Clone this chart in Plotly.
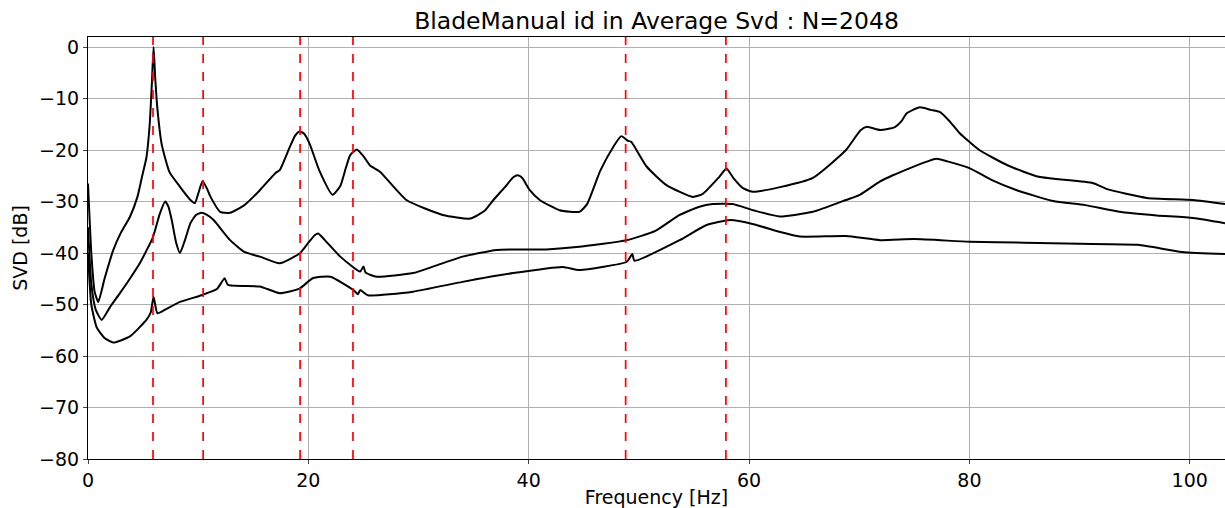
import plotly.graph_objects as go

# Top singular value curve
f1 = [0, 0.3, 0.6, 0.93, 1.5, 2.3, 3.0, 3.8, 4.5, 4.9, 5.3, 5.6, 5.8, 5.95, 6.1, 6.3, 6.7, 7.4, 8.3, 9.3,
      9.7, 10.0, 10.4, 10.8, 11.1, 12.0, 12.9, 14.2, 15.6, 17.0, 17.4, 18.3, 18.8, 19.2, 19.6, 20.1, 21.0, 22.2, 22.9,
      23.4, 23.8, 24.4, 25.0, 25.6, 26.5, 28.9, 32.2, 34.7, 36.0, 36.8, 37.8, 38.6, 39.0, 39.4, 40.1, 41.0, 42.8, 44.6, 45.3, 46.5,
      47.7, 48.4, 49.0, 49.3, 50.7, 52.5, 54.9, 55.8, 57.3, 57.95, 58.6, 59.45, 60.3, 62.8, 65.8, 68.8, 70.1, 70.7,
      71.9, 73.2, 73.8, 74.3, 75.5, 76.5, 77.3, 78.2, 79.1, 80.9, 83.5, 86.3, 91.2, 92.5, 96.1, 100.3, 103.2]
svd1 = [-26.5, -40, -47.5, -49.5, -45, -39.4, -36, -33, -29, -25.2, -21.5, -15, -7, 0, -6, -12, -19, -24.3, -27, -29.7,
        -30.3, -28.5, -26, -27.5, -29, -32, -32.2, -30.7, -27.8, -24.5, -23.9, -19.5, -17.2, -16.4, -16.8, -18.7, -24, -28.7, -27,
        -23.5, -21, -19.9, -21.2, -23, -24.2, -29.7, -32.6, -33.3, -31.8, -29.7, -27.3, -25.3, -24.9, -25.4, -27.8, -29.7, -31.7, -32, -30.5, -24,
        -19.3, -17.3, -18.2, -18.4, -23.2, -26.8, -29.1, -28.5, -25.2, -23.6, -25.5, -27.4, -28.1, -27.2, -25.4, -20, -16.2, -15.5,
        -16.1, -15.6, -14.5, -12.9, -11.7, -12.2, -12.6, -14.4, -16.7, -20, -23, -25.2, -26.4, -27.6, -29.3, -29.7, -30.5]

# Second singular value curve
f2 = [0, 0.3, 0.7, 1.24, 2.0, 2.9, 3.8, 4.7, 5.9, 6.5, 7.0, 7.3, 7.6, 8.0, 8.35, 8.8, 9.3, 9.8, 10.3, 10.8, 11.4, 12.9,
      14.2, 15.6, 17.4, 19.2, 20.0, 20.6, 20.9, 21.5, 22.9, 24.7, 25.0, 25.2, 26.2, 29.5, 31.5, 34.0, 37.1, 41.6, 44.6,
      48.9, 51.5, 53.7, 55.5, 56.7, 58.5, 60.4, 62.8, 65.8, 68.8, 70.05, 71.9, 73.05, 74.5, 76.2, 77.0, 78.0, 80.0, 82.0, 84.3,
      87.6, 90.5, 93.6, 97.0, 100.3, 103.2]
svd2 = [-35, -46, -51, -53, -50.5, -47.8, -45, -42, -36.9, -32.5, -30, -31, -33.6, -38, -40, -37.5, -34.2, -32.6, -32.2, -32.6, -33.6, -37.5,
        -39.8, -40.7, -42, -40.1, -38, -36.5, -36.2, -37.5, -40.7, -43.6, -42.6, -43.8, -44.6, -43.9, -42.5, -40.7, -39.4, -39.3, -38.8,
        -37.5, -35.7, -32.6, -31.0, -30.5, -30.5, -31.7, -32.9, -32, -29.7, -28.7, -26.1, -24.9, -23.6, -22.2, -21.7, -22.2, -23.5, -25.8, -27.8,
        -29.9, -30.7, -32, -32.7, -33.2, -34.2]

# Third singular value curve
f3 = [0, 0.3, 0.8, 1.5, 2.3, 3.8, 5.3, 5.7, 5.95, 6.3, 7.0, 8.35, 10.3, 11.7, 12.4, 12.7, 15.6, 17.4, 19.2, 20.4,
      22.0, 24.1, 24.5, 24.7, 25.4, 29.5, 34.0, 38.6, 43.1, 44.6, 48.9, 49.4, 49.6, 53.7, 56.1, 58.3, 60.4, 62.8,
      64.6, 68.8, 71.9, 75.0, 80.0, 85.0, 90.0, 95.3, 99.3, 103.2]
svd3 = [-40, -50, -54.5, -56.5, -57.4, -56.2, -53, -51.5, -48.5, -51.7, -51, -49.5, -48.2, -47, -44.9, -46.2, -46.5, -47.8, -46.9, -44.9,
        -44.6, -47.2, -48, -47.2, -48.2, -47.5, -45.6, -43.9, -42.7, -43.3, -41.7, -40.2, -41.5, -37.5, -34.6, -33.6, -34.4, -35.9,
        -36.8, -36.7, -37.5, -37.3, -37.8, -38.0, -38.2, -38.4, -39.8, -40.2]

# Identified modal frequencies (red dashed markers)
modes = [5.9, 10.45, 19.25, 24.05, 48.8, 57.9]

x_ticks = [0, 20, 40, 60, 80, 100]
y_ticks = [-80, -70, -60, -50, -40, -30, -20, -10, 0]

fig = go.Figure()
for fx, sy in [(f1, svd1), (f2, svd2), (f3, svd3)]:
    fig.add_trace(go.Scatter(x=fx, y=sy, mode="lines",
                             line=dict(color="black", width=2, shape="spline", smoothing=0.5),
                             showlegend=False))

for m in modes:
    fig.add_shape(type="line", x0=m, x1=m, xref="x", y0=0, y1=1, yref="paper",
                  line=dict(color="red", width=1.7, dash="dash"))

font = "DejaVu Sans, sans-serif"
fig.update_layout(
    width=1225, height=508,
    margin=dict(l=88, r=0, t=37, b=49),
    paper_bgcolor="white", plot_bgcolor="white",
    font=dict(family=font, size=19, color="black"),
    title=dict(text="BladeManual id in Average Svd : N=2048", x=0.5, xref="paper",
               y=1 - 21 / 508, yref="container", yanchor="middle", font=dict(size=23.5)),
)
fig.update_xaxes(range=[0, 103.2], tickvals=x_ticks, ticks="outside", ticklen=4,
                 showline=True, linecolor="black", linewidth=1, mirror=True, automargin=False,
                 showgrid=True, gridcolor="#b0b0b0", gridwidth=1, zeroline=False,
                 title=dict(text="Frequency [Hz]", font=dict(size=19), standoff=2))
fig.update_yaxes(range=[-80, 1.95], tickvals=y_ticks, ticks="outside", ticklen=4,
                 showline=True, linecolor="black", linewidth=1, mirror=True, automargin=False,
                 showgrid=True, gridcolor="#b0b0b0", gridwidth=1, zeroline=False,
                 title=dict(text="SVD [dB]", font=dict(size=19), standoff=6))

fig.write_html("out.html", config={"displayModeBar": False},
               post_script="document.body.style.margin='0';document.body.style.overflow='hidden';")
